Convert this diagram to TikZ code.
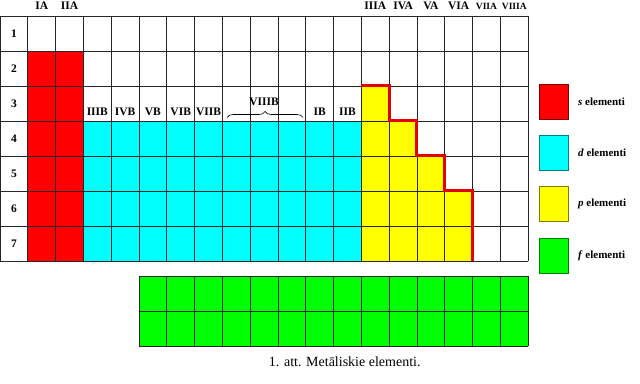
\documentclass[tikz,border=0pt]{standalone}
\usepackage{fontspec}
\setmainfont{Liberation Serif}
\usetikzlibrary{decorations.pathreplacing}
\definecolor{selem}{RGB}{255,0,0}
\definecolor{delem}{RGB}{0,255,255}
\definecolor{pelem}{RGB}{255,255,0}
\definecolor{felem}{RGB}{0,255,0}
\begin{document}
\begin{tikzpicture}[x=27.8pt, y=-35pt,
  gridline/.style={line width=0.8pt, black!85},
  lbl/.style={font=\fontsize{11.5}{13}\selectfont\bfseries, inner sep=0pt},
  smalllbl/.style={font=\fontsize{9.5}{11}\selectfont\bfseries, inner sep=0pt},
  keylbl/.style={font=\fontsize{11}{13}\selectfont\bfseries, inner sep=0pt}]
\useasboundingbox (0,-0.4571) rectangle (23.022,10.514);
\fill [selem] (1,1) rectangle (3,7);
\fill [delem] (3,3) rectangle (13,7);
\fill [pelem] (13,2) rectangle (14,7);
\fill [pelem] (14,3) rectangle (15,7);
\fill [pelem] (15,4) rectangle (16,7);
\fill [pelem] (16,5) rectangle (17,7);
\foreach \i in {0,...,19} \draw [gridline] (\i,0) -- (\i,7);
\foreach \j in {0,...,7} \draw [gridline] (0,\j) -- (19,\j);
\draw [selem!90!black, line width=3pt, line join=miter] (13,2) -- (14,2) -- (14,3) -- (15,3) -- (15,4) -- (16,4) -- (16,5) -- (17,5) -- (17,7);
\fill [felem] (5,7.43) rectangle (19,9.43);
\foreach \i in {5,...,19} \draw [gridline] (\i,7.43) -- (\i,9.43);
\foreach \j in {7.43,8.43,9.43} \draw [gridline] (5,\j) -- (19,\j);
\foreach \g/\k in {IA/1, IIA/2, IIIA/13, IVA/14, VA/15, VIA/16}
  \node [lbl] (g\g) at (\k+0.5,-0.286) {\g};
\foreach \g/\k in {VIIA/17, VIIIA/18}
  \node [smalllbl] (g\g) at (\k+0.5,-0.286) {\g};
\foreach \p in {1,...,7}
  \node [lbl] (p\p) at (0.5,\p-0.5) {\p};
\foreach \g/\k in {IIIB/3, IVB/4, VB/5, VIB/6, VIIB/7, IB/11, IIB/12}
  \node [lbl] (g\g) at (\k+0.5,2.74) {\g};
\node [lbl] (gVIIIB) at (9.5,2.46) {VIIIB};
\coordinate (bl) at (8.17,2.9);
\coordinate (br) at (10.9,2.9);
\draw [decorate, decoration={brace, amplitude=6pt, aspect=0.5}, line width=0.6pt] (bl) -- (br);
\foreach \c/\y/\t in {selem/1.94/s, delem/3.4/d, pelem/4.86/p, felem/6.34/f} {
  \draw [fill=\c, draw=\c!50!black] (19.39,\y) rectangle (20.43,\y+1);
  \node [keylbl, right] (l\t) at (20.79,\y+0.5) {\textit{\t} elementi};
}
\node [font=\fontsize{14}{16}\selectfont] (cap) at (12.4,9.89) {1. att. Metāliskie elementi.};
\end{tikzpicture}
\end{document}
